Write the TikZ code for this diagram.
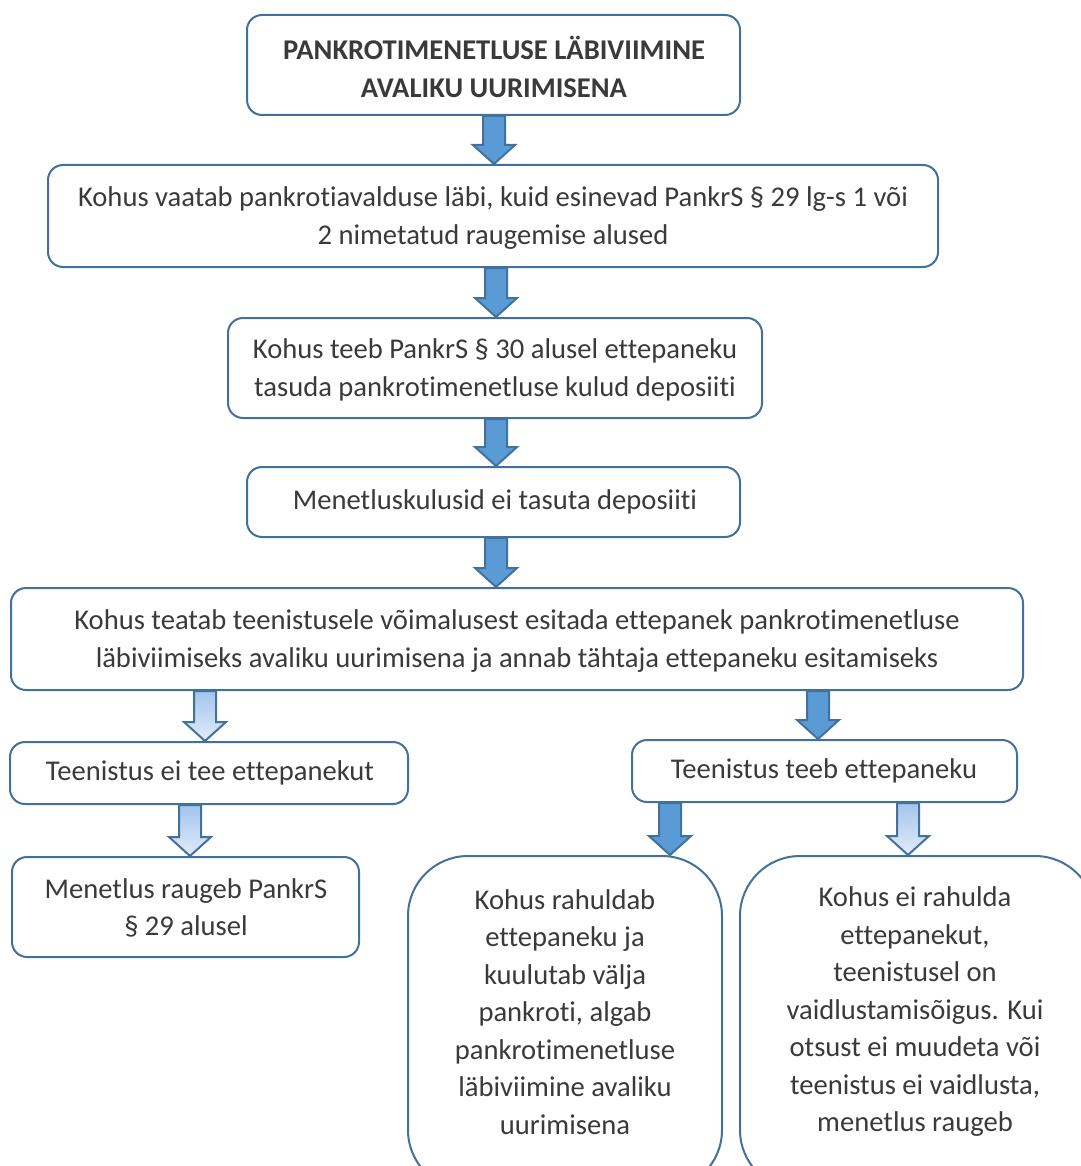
\documentclass[tikz,border=0pt]{standalone}
\usepackage{fontspec}
\setmainfont{Carlito}[Ligatures=NoCommon]
\usetikzlibrary{calc}
\definecolor{edge}{HTML}{41719C}
\definecolor{darkfill}{HTML}{5B9BD5}
\definecolor{lighttop}{HTML}{A3C4EC}
\definecolor{lightbot}{HTML}{E2ECFA}
\definecolor{txt}{HTML}{3A3A3A}
\tikzset{
  box/.style={draw=edge, line width=2pt, rounded corners=15pt, fill=white, inner sep=0pt},
  bigbox/.style={box, rounded corners=60pt},
  label/.style={text=txt, align=center, inner sep=0pt, font=\fontsize{28.6}{37.5}\selectfont},
  darkarrow/.style={draw=edge, line width=2pt, fill=darkfill, line join=miter},
  lightarrow/.style={draw=edge, line width=2pt, top color=lighttop, bottom color=lightbot, line join=miter},
}
\newcommand\blockarrow[3]{%
  \path[#1] let \p1=#2, \p2=#3 in
    (\x1-11pt,\y1) -- (\x1+11pt,\y1) -- (\x1+11pt,\y2+19pt) -- (\x1+21pt,\y2+19pt)
    -- (\x1,\y2) -- (\x1-21pt,\y2+19pt) -- (\x1-11pt,\y2+19pt) -- cycle;}
\begin{document}
\begin{tikzpicture}[x=1pt,y=-1pt]
\useasboundingbox (0,0) rectangle (1080,1166);
% boxes
\node[box, minimum width=493pt, minimum height=100pt] (b1) at (493.5,65) {};
\node[label, font=\fontsize{28.6}{38}\selectfont\bfseries] at (494,67) {PANKROTIMENETLUSE LÄBIVIIMINE\\AVALIKU UURIMISENA};
\node[box, minimum width=890pt, minimum height=102pt] (b2) at (493,216) {};
\node[label] at (493,218) {Kohus vaatab pankrotiavalduse läbi, kuid esinevad PankrS § 29 lg-s 1 või\\2 nimetatud raugemise alused};
\node[box, minimum width=534pt, minimum height=100pt] (b3) at (495,368) {};
\node[label] at (495,370) {Kohus teeb PankrS § 30 alusel ettepaneku\\tasuda pankrotimenetluse kulud deposiiti};
\node[box, minimum width=493pt, minimum height=70pt] (b4) at (493.5,502) {};
\node[label] at (495,502) {Menetluskulusid ei tasuta deposiiti};
\node[box, minimum width=1012pt, minimum height=102pt] (b5) at (517,639) {};
\node[label] at (517,641) {Kohus teatab teenistusele võimalusest esitada ettepanek pankrotimenetluse\\läbiviimiseks avaliku uurimisena ja annab tähtaja ettepaneku esitamiseks};
\node[box, minimum width=398pt, minimum height=62pt] (b6l) at (209,773) {};
\node[label] at (210,773) {Teenistus ei tee ettepanekut};
\node[box, minimum width=385pt, minimum height=62pt] (b6r) at (824.5,771) {};
\node[label] at (824,771) {Teenistus teeb ettepaneku};
\node[box, minimum width=347pt, minimum height=100pt] (b7) at (185.5,907) {};
\node[label] at (186,908) {Menetlus raugeb PankrS\\§ 29 alusel};
\node[bigbox, minimum width=314pt, minimum height=334pt] (b8) at (565,1023) {};
\node[label] at (565,1012) {Kohus rahuldab\\ettepaneku ja\\kuulutab välja\\pankroti, algab\\pankrotimenetluse\\läbiviimine avaliku\\uurimisena};
\node[bigbox, minimum width=355pt, minimum height=334pt] (b9) at (917.5,1023) {};
\node[label] at (915,1012) {Kohus ei rahulda\\ettepanekut,\\teenistusel on\\vaidlustamisõigus. Kui\\otsust ei muudeta või\\teenistus ei vaidlusta,\\menetlus raugeb};
% arrows
\blockarrow{darkarrow}{(b1.south -| 494,0)}{(b2.north)}
\blockarrow{darkarrow}{(b2.south -| 496,0)}{(b3.north)}
\blockarrow{darkarrow}{(b3.south -| 496,0)}{(b4.north)}
\blockarrow{darkarrow}{(b4.south -| 496,0)}{(b5.north)}
\blockarrow{lightarrow}{(b5.south -| 205,0)}{(b6l.north)}
\blockarrow{darkarrow}{(b5.south -| 818,0)}{(b6r.north)}
\blockarrow{lightarrow}{(b6l.south -| 190,0)}{(b7.north)}
\blockarrow{darkarrow}{(b6r.south -| 670,0)}{(b8.north)}
\blockarrow{lightarrow}{(b6r.south -| 908,0)}{(b9.north)}
\end{tikzpicture}
\end{document}
